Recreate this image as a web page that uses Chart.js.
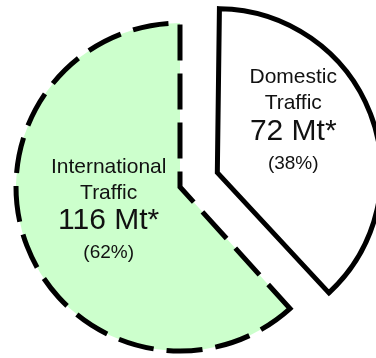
<!DOCTYPE html>
<html>
<head>
<meta charset="utf-8">
<script src="https://cdn.jsdelivr.net/npm/chart.js@4"></script>
<style>
  html, body { margin: 0; padding: 0; background: #fff; }
  #wrap { width: 376px; height: 358px; position: relative; }
</style>
</head>
<body>
<div id="wrap"><canvas id="pie"></canvas></div>
<script>
// Chart data
const categories = [['Domestic', 'Traffic'], ['International', 'Traffic']];
const tonnes = [72, 116];
const unit = 'Mt*';
const fillColors = ['#ffffff', '#ccffcc'];

// Label placement, relative to each slice's own centre (angle clockwise from top)
const labelPlacement = [
  { angle: 55.6, dist: 92 },
  { angle: 252, dist: 75 }
];
const lineOffsets = [-43, -17, 11, 43];

const total = tonnes.reduce((a, b) => a + b, 0);
const explode = 160; // chart.js moves the slice by offset / 4

// Chart.js grows an offset slice's radius a little; undo that
const keepRadius = {
  id: 'keepRadius',
  afterDatasetsUpdate(chart) {
    chart.getDatasetMeta(0).data.forEach(arc => {
      const off = (arc.options.offset || 0) / 4;
      const fix = 1 - Math.sin(Math.min(Math.PI, arc.circumference));
      arc.outerRadius -= off * fix;
    });
  }
};

const sliceLabels = {
  id: 'sliceLabels',
  afterDatasetsDraw(chart) {
    const ctx = chart.ctx;
    const face = '"Liberation Sans", Arial, sans-serif';
    chart.getDatasetMeta(0).data.forEach((arc, i) => {
      const off = (arc.options.offset || 0) / 4;
      const mid = (arc.startAngle + arc.endAngle) / 2;
      const cx = arc.x + Math.cos(mid) * off;
      const cy = arc.y + Math.sin(mid) * off;
      const a = labelPlacement[i].angle * Math.PI / 180;
      const x = cx + Math.sin(a) * labelPlacement[i].dist;
      const y = cy - Math.cos(a) * labelPlacement[i].dist;
      const pct = Math.round(tonnes[i] / total * 100);
      const lines = [
        { text: categories[i][0], font: '21px ' + face },
        { text: categories[i][1], font: '21px ' + face },
        { text: tonnes[i] + ' ' + unit, font: '30px ' + face },
        { text: '(' + pct + '%)', font: '19px ' + face }
      ];
      ctx.save();
      ctx.fillStyle = '#111';
      ctx.textAlign = 'center';
      ctx.textBaseline = 'middle';
      lines.forEach((l, j) => {
        ctx.font = l.font;
        ctx.fillText(l.text, x, y + lineOffsets[j]);
      });
      ctx.restore();
    });
  }
};

new Chart(document.getElementById('pie'), {
  type: 'pie',
  data: {
    labels: categories.map(c => c.join(' ')),
    datasets: [{
      data: tonnes,
      backgroundColor: fillColors,
      borderColor: '#000',
      borderWidth: 5,
      borderJoinStyle: 'miter',
      borderDash: ctx => ctx.dataIndex === 1 ? [36, 13] : [],
      offset: ctx => ctx.dataIndex === 0 ? explode : 0
    }]
  },
  options: {
    responsive: true,
    maintainAspectRatio: false,
    animation: false,
    events: [],
    radius: 164,
    layout: { padding: { left: 0, right: 16, top: 16, bottom: 0 } },
    plugins: {
      legend: { display: false },
      tooltip: { enabled: false }
    }
  },
  plugins: [keepRadius, sliceLabels]
});
</script>
</body>
</html>
